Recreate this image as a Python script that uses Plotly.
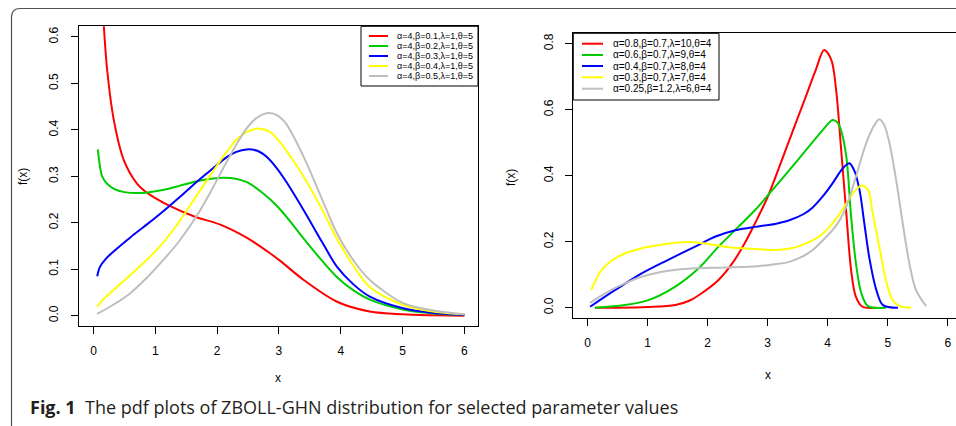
import plotly.graph_objects as go

W, H = 956, 426

# ---------------- data: left panel ----------------
left_labels = ["α=4,β=0.1,λ=1,θ=5", "α=4,β=0.2,λ=1,θ=5", "α=4,β=0.3,λ=1,θ=5",
               "α=4,β=0.4,λ=1,θ=5", "α=4,β=0.5,λ=1,θ=5"]
left_red_x = [0.05, 0.08, 0.12, 0.167, 0.22, 0.33, 0.49, 0.7, 0.87, 1.0, 1.19, 1.62, 2.05, 2.49, 2.86, 3.03, 3.4, 3.94, 4.47, 5.0, 5.5, 6.0]
left_red_y = [1.2, 0.95, 0.75, 0.624, 0.53, 0.42, 0.335, 0.285, 0.264, 0.253, 0.239, 0.214, 0.196, 0.167, 0.134, 0.117, 0.077, 0.03, 0.009, 0.003, 0.001, 0.0]
left_green_x = [0.07, 0.1, 0.14, 0.22, 0.33, 0.5, 0.71, 0.9, 1.14, 1.4, 1.62, 1.9, 2.11, 2.3, 2.49, 2.7, 2.86, 3.03, 3.2, 3.4, 3.7, 3.94, 4.2, 4.48, 5.02, 5.5, 6.0]
left_green_y = [0.358, 0.325, 0.300, 0.284, 0.273, 0.266, 0.264, 0.266, 0.271, 0.280, 0.288, 0.295, 0.297, 0.295, 0.287, 0.268, 0.25, 0.227, 0.2, 0.166, 0.118, 0.083, 0.055, 0.034, 0.013, 0.005, 0.002]
left_blue_x = [0.06, 0.1, 0.21, 0.4, 0.59, 0.8, 1.02, 1.2, 1.4, 1.6, 1.83, 2.0, 2.16, 2.3, 2.48, 2.65, 2.8, 2.95, 3.1, 3.4, 3.7, 3.94, 4.2, 4.47, 5.01, 5.5, 6.0]
left_blue_y = [0.085, 0.104, 0.124, 0.147, 0.168, 0.19, 0.213, 0.233, 0.256, 0.28, 0.306, 0.325, 0.342, 0.352, 0.358, 0.355, 0.342, 0.32, 0.292, 0.227, 0.158, 0.105, 0.068, 0.041, 0.016, 0.006, 0.002]
left_yellow_x = [0.06, 0.15, 0.32, 0.6, 0.86, 1.1, 1.4, 1.7, 1.94, 2.15, 2.32, 2.5, 2.67, 2.86, 3.02, 3.2, 3.4, 3.7, 3.94, 4.2, 4.47, 5.01, 5.55, 6.0]
left_yellow_y = [0.019, 0.034, 0.055, 0.088, 0.12, 0.153, 0.205, 0.265, 0.312, 0.352, 0.38, 0.397, 0.403, 0.395, 0.373, 0.34, 0.299, 0.228, 0.165, 0.108, 0.062, 0.023, 0.008, 0.003]
left_grey_x = [0.06, 0.3, 0.59, 0.85, 1.13, 1.4, 1.67, 1.9, 2.1, 2.3, 2.48, 2.65, 2.8, 2.95, 3.1, 3.4, 3.7, 3.94, 4.2, 4.47, 5.01, 5.55, 6.0]
left_grey_y = [0.004, 0.022, 0.048, 0.08, 0.12, 0.163, 0.215, 0.268, 0.318, 0.366, 0.404, 0.427, 0.436, 0.433, 0.416, 0.342, 0.25, 0.177, 0.12, 0.077, 0.027, 0.01, 0.003]

# ---------------- data: right panel ----------------
right_labels = ["α=0.8,β=0.7,λ=10,θ=4", "α=0.6,β=0.7,λ=9,θ=4", "α=0.4,β=0.7,λ=8,θ=4",
                "α=0.3,β=0.7,λ=7,θ=4", "α=0.25,β=1.2,λ=6,θ=4"]
right_red_x = [0.12, 0.5, 1.0, 1.46, 1.7, 1.9, 2.18, 2.4, 2.6, 2.8, 3.0, 3.2, 3.4, 3.6, 3.8, 3.94, 4.06, 4.14, 4.22, 4.31, 4.39, 4.47, 4.58, 4.78]
right_red_y = [0.0, 0.0, 0.002, 0.008, 0.022, 0.044, 0.084, 0.132, 0.19, 0.26, 0.336, 0.43, 0.527, 0.623, 0.72, 0.781, 0.751, 0.66, 0.488, 0.286, 0.114, 0.033, 0.003, 0.0]
right_green_x = [0.12, 0.62, 1.01, 1.46, 1.84, 2.18, 2.51, 2.79, 3.08, 3.36, 3.64, 3.92, 4.08, 4.16, 4.22, 4.31, 4.39, 4.47, 4.56, 4.67, 4.97]
right_green_y = [0.0, 0.008, 0.023, 0.064, 0.118, 0.185, 0.245, 0.296, 0.357, 0.417, 0.478, 0.539, 0.569, 0.562, 0.539, 0.458, 0.276, 0.135, 0.044, 0.005, 0.0]
right_blue_x = [0.04, 0.46, 0.9, 1.34, 1.79, 2.12, 2.46, 2.79, 3.12, 3.36, 3.6, 3.75, 3.92, 4.08, 4.2, 4.28, 4.36, 4.44, 4.53, 4.61, 4.69, 4.81, 4.92, 5.17]
right_blue_y = [0.003, 0.054, 0.104, 0.145, 0.185, 0.215, 0.235, 0.245, 0.254, 0.265, 0.284, 0.304, 0.338, 0.377, 0.41, 0.428, 0.438, 0.417, 0.357, 0.256, 0.155, 0.054, 0.008, 0.0]
right_yellow_x = [0.06, 0.23, 0.51, 0.9, 1.2, 1.46, 1.73, 2.01, 2.29, 2.57, 2.8, 3.14, 3.4, 3.64, 3.85, 4.03, 4.18, 4.31, 4.47, 4.57, 4.67, 4.75, 4.86, 4.97, 5.08, 5.2, 5.39]
right_yellow_y = [0.054, 0.114, 0.155, 0.18, 0.19, 0.197, 0.199, 0.193, 0.185, 0.18, 0.178, 0.175, 0.18, 0.195, 0.215, 0.245, 0.28, 0.316, 0.357, 0.37, 0.357, 0.286, 0.185, 0.084, 0.023, 0.005, 0.0]
right_grey_x = [0.04, 0.34, 0.62, 0.9, 1.34, 1.73, 2.29, 2.84, 3.12, 3.36, 3.6, 3.75, 3.95, 4.08, 4.2, 4.31, 4.47, 4.64, 4.78, 4.86, 4.94, 5.03, 5.14, 5.25, 5.36, 5.47, 5.64]
right_grey_y = [0.015, 0.049, 0.074, 0.094, 0.112, 0.119, 0.122, 0.126, 0.132, 0.139, 0.157, 0.175, 0.21, 0.235, 0.265, 0.306, 0.397, 0.498, 0.554, 0.571, 0.554, 0.498, 0.387, 0.256, 0.135, 0.054, 0.005]

x_ticks = [0, 1, 2, 3, 4, 5, 6]
left_y_ticks = [0.0, 0.1, 0.2, 0.3, 0.4, 0.5, 0.6]
right_y_ticks = [0.0, 0.2, 0.4, 0.6, 0.8]
colors = ["#FF0000", "#00CD00", "#0000FF", "#FFFF00", "#BEBEBE"]
caption_bold = "Fig. 1"
caption_text = "The pdf plots of ZBOLL-GHN distribution for selected parameter values"


def px(x):
    return x / W


def py(y):
    return 1 - y / H


left_series = [(left_red_x, left_red_y), (left_green_x, left_green_y), (left_blue_x, left_blue_y),
               (left_yellow_x, left_yellow_y), (left_grey_x, left_grey_y)]
right_series = [(right_red_x, right_red_y), (right_green_x, right_green_y), (right_blue_x, right_blue_y),
                (right_yellow_x, right_yellow_y), (right_grey_x, right_grey_y)]

fig = go.Figure()
for (xs, ys), c, lab in zip(left_series, colors, left_labels):
    fig.add_trace(go.Scatter(x=xs, y=ys, mode="lines", name=lab, showlegend=False,
                             line=dict(color=c, width=2, shape="spline", smoothing=0.9),
                             xaxis="x", yaxis="y"))
for (xs, ys), c, lab in zip(right_series, colors, right_labels):
    fig.add_trace(go.Scatter(x=xs, y=ys, mode="lines", name=lab, showlegend=False,
                             line=dict(color=c, width=2, shape="spline", smoothing=0.9),
                             xaxis="x2", yaxis="y2"))

tickfont = dict(family="Liberation Sans, Arial, sans-serif", size=12, color="black")
common_x = dict(showline=True, mirror=True, linecolor="black", linewidth=1, ticks="outside",
                ticklen=7, tickcolor="black", tickwidth=1, showgrid=False, zeroline=False,
                tickfont=tickfont, tickvals=x_ticks, ticklabelstandoff=6)
common_y = dict(showline=True, linecolor="black", linewidth=1, ticks="outside",
                ticklen=7, tickcolor="black", tickwidth=1, showgrid=False, zeroline=False,
                tickfont=tickfont, tickformat=".1f", tickangle=-90, ticklabelstandoff=8)

fig.update_layout(
    width=W, height=H, margin=dict(l=0, r=0, t=0, b=0),
    paper_bgcolor="white", plot_bgcolor="white", showlegend=False,
    xaxis=dict(domain=[px(79), px(478)], range=[-0.235, 6.22], anchor="y", **common_x),
    yaxis=dict(domain=[py(326.3), py(26.3)], range=[-0.0228, 0.623], anchor="x", mirror=True,
               tickvals=left_y_ticks, **common_y),
    xaxis2=dict(domain=[px(573.3), 1.0], range=[-0.24, 6.138], anchor="y2", **common_x),
    yaxis2=dict(domain=[py(318.3), py(33.3)], range=[-0.032, 0.8315], anchor="x2", mirror=False,
                tickvals=right_y_ticks, **common_y),
)

shapes = []
annotations = []

# outer rounded border
shapes.append(dict(type="path", xref="paper", yref="paper", layer="above",
                   path=f"M {px(11.5)},{py(430)} L {px(11.5)},{py(17)} Q {px(11.5)},{py(8.5)} {px(20)},{py(8.5)} L {px(960)},{py(8.5)}",
                   line=dict(color="#505050", width=1.2)))

# axis titles
axfont = dict(family="Liberation Sans, Arial, sans-serif", size=12, color="black")
annotations.append(dict(text="x", x=px(278), y=py(378), xref="paper", yref="paper", showarrow=False,
                        font=axfont, xanchor="center", yanchor="middle"))
annotations.append(dict(text="f(x)", x=px(23), y=py(177), xref="paper", yref="paper", showarrow=False,
                        font=axfont, textangle=-90, xanchor="center", yanchor="middle"))
annotations.append(dict(text="x", x=px(767.7), y=py(375), xref="paper", yref="paper", showarrow=False,
                        font=axfont, xanchor="center", yanchor="middle"))
annotations.append(dict(text="f(x)", x=px(511), y=py(177), xref="paper", yref="paper", showarrow=False,
                        font=axfont, textangle=-90, xanchor="center", yanchor="middle"))


def legend(box, rows, sx0, sx1, tx, fsize, labels):
    x0, y0, x1, y1 = box
    shapes.append(dict(type="rect", xref="paper", yref="paper", layer="above",
                       x0=px(x0), x1=px(x1), y0=py(y1), y1=py(y0),
                       line=dict(color="black", width=1), fillcolor="white"))
    for ry, c, lab in zip(rows, colors, labels):
        shapes.append(dict(type="line", xref="paper", yref="paper", layer="above",
                           x0=px(sx0), x1=px(sx1), y0=py(ry), y1=py(ry),
                           line=dict(color=c, width=2)))
        annotations.append(dict(text=lab, x=px(tx), y=py(ry), xref="paper", yref="paper",
                                showarrow=False, xanchor="left", yanchor="middle",
                                font=dict(family="Liberation Sans, Arial, sans-serif", size=fsize, color="black")))


legend((361, 26.3, 478, 86), [36, 46, 56, 66, 76], 369, 388, 395, 9, left_labels)
legend((573.3, 33.3, 719, 100), [43.7, 55, 66, 77.3, 88.7], 582, 603, 611, 10, right_labels)

# caption
annotations.append(dict(text=f"<b>{caption_bold}</b>  {caption_text}", x=px(28), y=py(407),
                        xref="paper", yref="paper", showarrow=False, xanchor="left", yanchor="middle",
                        font=dict(family="Open Sans, sans-serif", size=18, color="#231f20")))

fig.update_layout(shapes=shapes, annotations=annotations)
fig.write_html("out.html", config={"displayModeBar": False},
               post_script="document.body.style.margin='0px';document.body.style.overflow='hidden';")
